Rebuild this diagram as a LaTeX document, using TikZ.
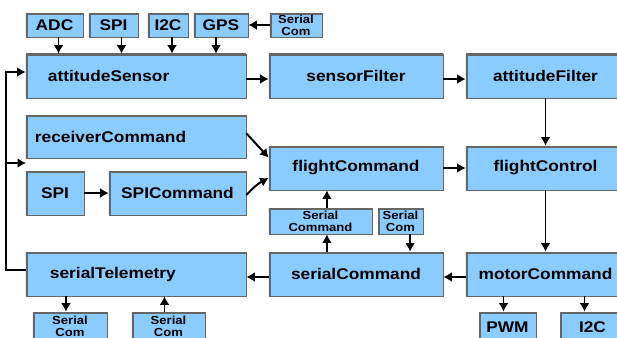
\documentclass[tikz,border=0pt]{standalone}
\usepackage{fontspec}
\setmainfont[FakeStretch=1.12]{Liberation Sans}
\usetikzlibrary{arrows.meta}
\definecolor{boxblue}{RGB}{138,204,255}
\tikzset{
  blk/.style={fill=boxblue, draw=black!60, line width=0.5pt, inner sep=0pt,
    minimum height=1.1cm, font=\bfseries\fontsize{11}{12}\selectfont,
    path picture={\draw[line width=2.6pt] (path picture bounding box.south west)
      -- (path picture bounding box.north west) -- (path picture bounding box.north east);}},
  io/.style={blk, minimum height=0.6cm},
  tag/.style={blk, minimum height=0.6cm, align=center,
    font=\bfseries\fontsize{8.3}{8.6}\selectfont},
  arr/.style={line width=1.4pt, -{Latex[length=6pt,width=7pt]}}
}
\begin{document}
\begin{tikzpicture}[x=0.025cm, y=-0.025cm]
  \clip (0,0) rectangle (617,337);
  \fill[white] (0,0) rectangle (617,337);
  % sensor inputs
  \node[io, minimum width=1.425cm] (ADC) at (54.5,25) {ADC};
  \node[io, minimum width=1.225cm] (SPIa) at (113.5,25) {SPI};
  \node[io, minimum width=1cm] (I2Ca) at (168,25) {I2C};
  \node[io, minimum width=1.35cm] (GPS) at (221,25) {GPS};
  \node[tag, minimum width=1.3cm] (serialGPS) at (296,25) {Serial\\Com};
  % main blocks
  \node[blk, align=left, inner xsep=0.55cm, text width=4.4cm] (attitudeSensor) at (136,76) {attitudeSensor};
  \node[blk, minimum width=4.35cm] (sensorFilter) at (356,76) {sensorFilter};
  \node[blk, minimum width=3.975cm] (attitudeFilter) at (545.5,76) {attitudeFilter};
  \node[blk, align=left, inner xsep=0.225cm, text width=5.05cm, minimum height=1.075cm] (receiverCommand) at (136,136.5) {receiverCommand};
  \node[blk, minimum width=4.35cm] (flightCommand) at (356,168) {flightCommand\hspace{0.4cm}};
  \node[blk, minimum width=3.975cm] (flightControl) at (545.5,168) {flightControl};
  \node[blk, minimum width=1.45cm] (SPIb) at (55,193) {SPI};
  \node[blk, minimum width=3.425cm] (SPICommand) at (177.5,193) {SPICommand};
  \node[tag, minimum width=2.575cm, minimum height=0.65cm] (serialCmdTag) at (320.5,221) {Serial\\Command};
  \node[tag, minimum width=1.125cm, minimum height=0.65cm] (serialCmdIn) at (400.5,221) {Serial\\Com};
  \node[blk, align=left, inner xsep=0.6cm, text width=4.3cm] (serialTelemetry) at (136,274) {serialTelemetry};
  \node[blk, minimum width=4.35cm] (serialCommand) at (356,274) {serialCommand\hspace{0.5cm}};
  \node[blk, minimum width=3.975cm] (motorCommand) at (545.5,274) {motorCommand};
  % outputs
  \node[tag, minimum width=1.85cm, minimum height=0.7cm] (serialOut) at (70,326) {Serial\\Com};
  \node[tag, minimum width=1.825cm, minimum height=0.7cm] (serialTelIn) at (168.5,326) {Serial\\Com};
  \node[io, minimum width=1.425cm, minimum height=0.75cm] (PWM) at (507.5,327) {PWM};
  \node[io, minimum width=1.625cm, minimum height=0.75cm] (I2Cb) at (592.5,327) {I2C};
  \coordinate (gap) at (26,163);
  % connectors
  \draw[arr] ([xshift=0.1cm]ADC.south) -- ([xshift=0.1cm]ADC.south |- attitudeSensor.north);
  \draw[arr] ([xshift=0.2cm]SPIa.south) -- ([xshift=0.2cm]SPIa.south |- attitudeSensor.north);
  \draw[arr] ([xshift=0.1cm]I2Ca.south) -- ([xshift=0.1cm]I2Ca.south |- attitudeSensor.north);
  \draw[arr] ([xshift=-0.125cm]GPS.south) -- ([xshift=-0.125cm]GPS.south |- attitudeSensor.north);
  \draw[arr] (serialGPS) -- (GPS);
  \draw[arr] ([yshift=0.1cm]serialTelemetry.west) -- ++(-20,0) |- ([yshift=0.1cm]attitudeSensor.west);
  \draw[arr] (6,163) -- (gap);
  \draw[arr] ([yshift=-0.075cm]attitudeSensor.east) -- ([yshift=-0.075cm]sensorFilter.west);
  \draw[arr] ([yshift=-0.075cm]sensorFilter.east) -- ([yshift=-0.075cm]attitudeFilter.west);
  \draw[arr] (attitudeFilter) -- (flightControl);
  \draw[arr] ([yshift=0.08cm]receiverCommand.east) -- ([yshift=0.26cm]flightCommand.west);
  \draw[arr] ([yshift=-0.05cm]SPICommand.east) to[bend left=10] ([yshift=-0.25cm]flightCommand.west);
  \draw[arr] (SPIb) -- (SPICommand);
  \draw[arr] (flightCommand) -- (flightControl);
  \draw[arr] (flightControl) -- (motorCommand);
  \draw[arr] ([yshift=-0.075cm]motorCommand.west) -- ([yshift=-0.075cm]serialCommand.east);
  \draw[arr] ([yshift=-0.075cm]serialCommand.west) -- ([yshift=-0.075cm]serialTelemetry.east);
  \draw[arr] ([xshift=0.16cm]serialCmdTag.south |- serialCommand.north) -- ([xshift=0.16cm]serialCmdTag.south);
  \draw[arr] ([xshift=0.16cm]serialCmdTag.north) -- ([xshift=0.16cm]serialCmdTag.north |- flightCommand.south);
  \draw[arr] ([xshift=0.24cm]serialCmdIn.south) -- ([xshift=0.24cm]serialCmdIn.south |- serialCommand.north);
  \draw[arr] ([xshift=-0.1cm]serialOut.north |- serialTelemetry.south) -- ([xshift=-0.1cm]serialOut.north);
  \draw[arr] ([xshift=-0.1cm]serialTelIn.north) -- ([xshift=-0.1cm]serialTelIn.north |- serialTelemetry.south);
  \draw[arr] ([xshift=-0.1cm]PWM.north |- motorCommand.south) -- ([xshift=-0.1cm]PWM.north);
  \draw[arr] ([xshift=-0.2cm]I2Cb.north |- motorCommand.south) -- ([xshift=-0.2cm]I2Cb.north);
\end{tikzpicture}
\end{document}
